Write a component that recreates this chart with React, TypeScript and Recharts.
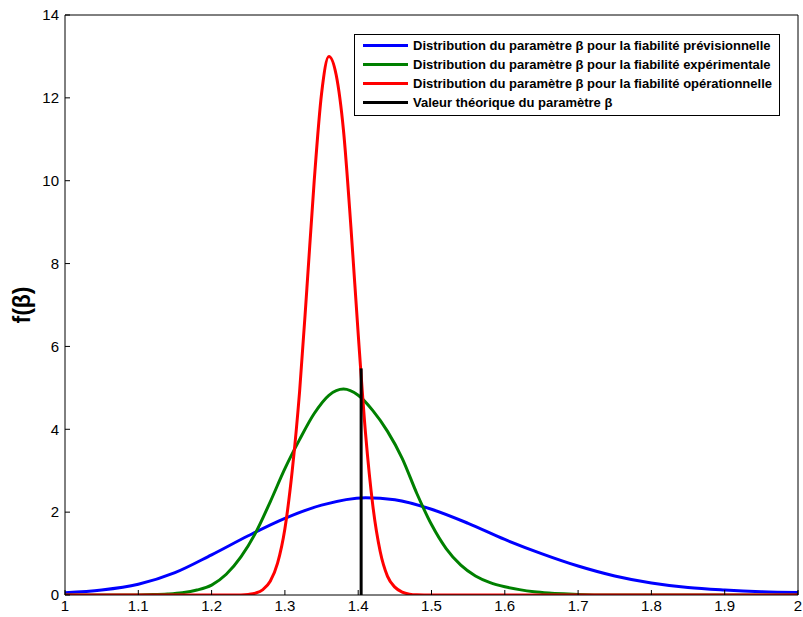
import React from 'react';
import { LineChart, Line, XAxis, YAxis, Legend } from 'recharts';

// fiabilité prévisionnelle (blue)
const previsionnelleX = [1.0, 1.05, 1.1, 1.15, 1.2, 1.25, 1.3, 1.35, 1.41, 1.45, 1.5, 1.55, 1.6, 1.65, 1.7, 1.75, 1.8, 1.85, 1.9, 1.95, 2.0];
const previsionnelleY = [0.055, 0.12, 0.26, 0.54, 0.97, 1.43, 1.85, 2.17, 2.35, 2.3, 2.07, 1.73, 1.34, 1.0, 0.7, 0.46, 0.29, 0.18, 0.12, 0.08, 0.06];

// fiabilité expérimentale (green)
const experimentaleX = [1.0, 1.1, 1.12, 1.14, 1.16, 1.18, 1.2, 1.22, 1.24, 1.26, 1.28, 1.3, 1.32, 1.34, 1.36, 1.38, 1.4, 1.42, 1.44, 1.46, 1.48, 1.5, 1.52, 1.54, 1.56, 1.58, 1.6, 1.62, 1.64, 1.66, 1.68, 1.7, 1.74, 2.0];
const experimentaleY = [0, 0.003, 0.01, 0.025, 0.055, 0.12, 0.24, 0.5, 0.92, 1.5, 2.25, 3.05, 3.75, 4.38, 4.82, 4.97, 4.82, 4.45, 3.95, 3.3, 2.45, 1.7, 1.12, 0.72, 0.46, 0.3, 0.2, 0.13, 0.08, 0.05, 0.03, 0.015, 0, 0];

// fiabilité opérationnelle (red)
const operationnelleX = [1.0, 1.22, 1.24, 1.25, 1.26, 1.27, 1.28, 1.29, 1.3, 1.31, 1.32, 1.33, 1.34, 1.35, 1.36, 1.37, 1.38, 1.39, 1.4, 1.41, 1.42, 1.43, 1.44, 1.45, 1.46, 1.47, 1.48, 1.5, 2.0];
const operationnelleY = [0, 0, 0.003, 0.014, 0.045, 0.13, 0.33, 0.77, 1.6, 3.0, 4.9, 7.4, 10.0, 12.1, 13.0, 12.55, 11.2, 8.9, 6.3, 3.9, 2.15, 1.05, 0.45, 0.19, 0.07, 0.02, 0.005, 0, 0];

// valeur théorique (black)
const theoriqueX = [1.404, 1.404];
const theoriqueY = [0, 5.47];

const xTicks = [1, 1.1, 1.2, 1.3, 1.4, 1.5, 1.6, 1.7, 1.8, 1.9, 2];
const yTicks = [0, 2, 4, 6, 8, 10, 12, 14];

const legendItems = [
  { label: 'Distribution du paramètre β pour la fiabilité prévisionnelle', color: '#0000ff' },
  { label: 'Distribution du paramètre β pour la fiabilité expérimentale', color: '#008000' },
  { label: 'Distribution du paramètre β pour la fiabilité opérationnelle', color: '#ff0000' },
  { label: 'Valeur théorique du paramètre β', color: '#000000' },
];

const toPoints = (xs: number[], ys: number[]) => xs.map((x, i) => ({ x, y: ys[i] }));

const FONT = '"Liberation Sans", Arial, Helvetica, sans-serif';

const LegendBox = () => (
  <div
    style={{
      boxSizing: 'border-box',
      width: 426,
      height: 82,
      border: '1px solid #000',
      background: '#fff',
      paddingTop: 1,
      fontFamily: FONT,
    }}
  >
    {legendItems.map((it) => (
      <div key={it.label} style={{ display: 'flex', alignItems: 'center', height: 19 }}>
        <div style={{ width: 45, height: 3, background: it.color, marginLeft: 8, marginRight: 5 }} />
        <span style={{ fontSize: 13, fontWeight: 'bold', whiteSpace: 'nowrap', color: '#000' }}>
          {it.label}
        </span>
      </div>
    ))}
  </div>
);

const tickStyle = { fill: '#000', fontSize: 15, fontFamily: FONT };

export default function App() {
  return (
    <div style={{ position: 'absolute', left: 0, top: 0, width: 803, height: 617, background: '#fff' }}>
      <LineChart width={803} height={617} margin={{ top: 5, right: 0, bottom: 0, left: 0 }}>
        <XAxis
          xAxisId="bottom"
          dataKey="x"
          type="number"
          domain={[1, 2]}
          ticks={xTicks}
          interval={0}
          height={22}
          tickSize={-5}
          tickMargin={10}
          stroke="#000"
          tick={tickStyle}
          allowDataOverflow
        />
        <XAxis
          xAxisId="top"
          orientation="top"
          dataKey="x"
          type="number"
          domain={[1, 2]}
          ticks={xTicks}
          interval={0}
          height={10}
          tickSize={-5}
          tick={false}
          stroke="#000"
          allowDataOverflow
        />
        <YAxis
          yAxisId="left"
          type="number"
          domain={[0, 14]}
          ticks={yTicks}
          interval={0}
          width={65}
          tickSize={-5}
          tickMargin={11}
          stroke="#000"
          tick={tickStyle}
          allowDataOverflow
          label={{
            value: 'f(β)',
            angle: -90,
            position: 'center',
            dx: -10.5,
            style: { fontSize: 23, fontWeight: 'bold', fill: '#000', fontFamily: FONT },
          }}
        />
        <YAxis
          yAxisId="right"
          orientation="right"
          type="number"
          domain={[0, 14]}
          ticks={yTicks}
          interval={0}
          width={5}
          tickSize={-5}
          tick={false}
          stroke="#000"
          allowDataOverflow
        />
        <Legend
          layout="vertical"
          align="center"
          verticalAlign="middle"
          wrapperStyle={{ left: 354, top: 34, width: 426 }}
          content={() => <LegendBox />}
        />
        <Line
          xAxisId="bottom"
          yAxisId="left"
          data={toPoints(previsionnelleX, previsionnelleY)}
          dataKey="y"
          type="monotone"
          stroke="#0000ff"
          strokeWidth={3}
          dot={false}
          isAnimationActive={false}
        />
        <Line
          xAxisId="bottom"
          yAxisId="left"
          data={toPoints(experimentaleX, experimentaleY)}
          dataKey="y"
          type="monotone"
          stroke="#008000"
          strokeWidth={3}
          dot={false}
          isAnimationActive={false}
        />
        <Line
          xAxisId="bottom"
          yAxisId="left"
          data={toPoints(operationnelleX, operationnelleY)}
          dataKey="y"
          type="monotone"
          stroke="#ff0000"
          strokeWidth={3}
          dot={false}
          isAnimationActive={false}
        />
        <Line
          xAxisId="bottom"
          yAxisId="left"
          data={toPoints(theoriqueX, theoriqueY)}
          dataKey="y"
          type="linear"
          stroke="#000000"
          strokeWidth={3}
          dot={false}
          isAnimationActive={false}
        />
      </LineChart>
    </div>
  );
}
